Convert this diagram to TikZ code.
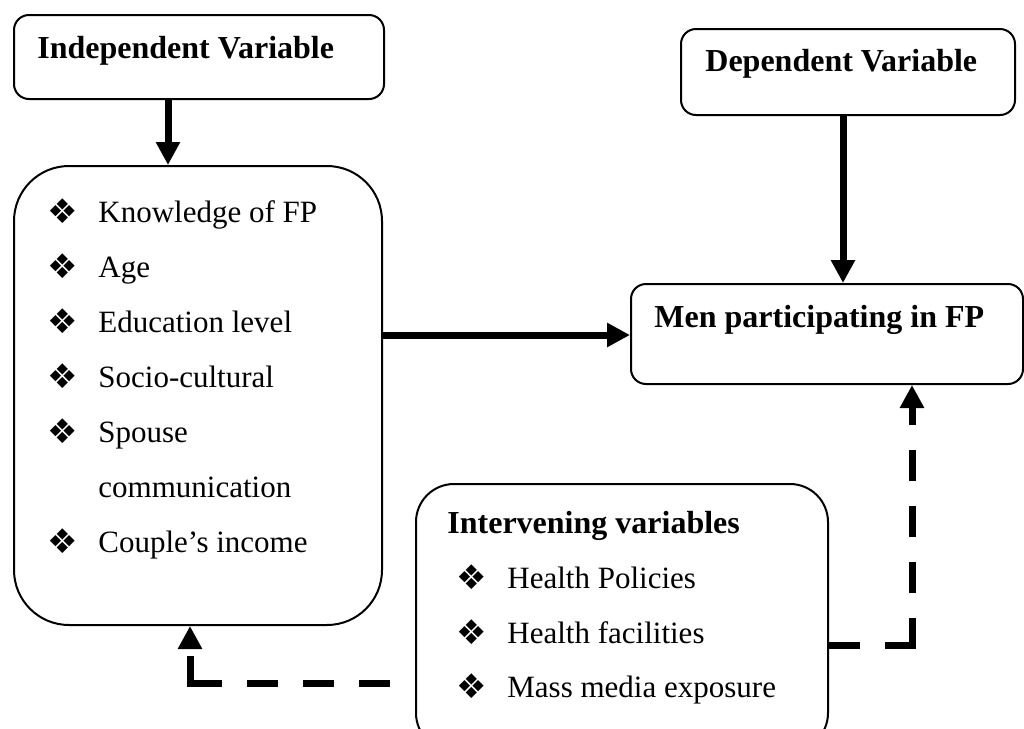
\documentclass[tikz,border=0pt]{standalone}
\usepackage{fontspec}
\setmainfont{Liberation Serif}
\newfontfamily\bulletfont{DejaVu Sans}
\usetikzlibrary{arrows.meta}
\newcommand\headfont{\bfseries\fontsize{16pt}{18pt}\selectfont}
\newcommand\bodyfont{\fontsize{15.5pt}{18pt}\selectfont}

\begin{document}
\begin{tikzpicture}[x=0.5pt, y=-0.5pt,
  box/.style={draw, line width=1pt, rounded corners=7.5pt, fill=white, anchor=north west, inner sep=0pt},
  headtxt/.style={anchor=base west, inner sep=0pt, font=\headfont},
  listtxt/.style={anchor=base west, inner sep=0pt, font=\bodyfont},
  bul/.style={inner sep=0pt, font=\bulletfont\fontsize{17pt}{17pt}\selectfont},
  link/.style={line width=3.5pt, -{Triangle[length=11.5pt, width=11.5pt]}},
  dseg/.style={line width=3.5pt, dash pattern=on 15.5pt off 12.5pt}]
  \clip (0,0) rectangle (1024,729);
  \fill[white] (0,0) rectangle (1024,729);
  % boxes
  \node[box, minimum width=185pt, minimum height=42pt] (indep) at (13,14) {};
  \node[box, minimum width=184pt, minimum height=229.5pt, rounded corners=27.5pt] (list) at (13,165) {};
  \node[box, minimum width=167pt, minimum height=43pt] (dep) at (680,28) {};
  \node[box, minimum width=196pt, minimum height=50pt] (men) at (630,283) {};
  \node[box, minimum width=206pt, minimum height=133.5pt, rounded corners=19pt] (interv) at (415,483) {};
  % headings
  \node[headtxt] (indept) at (37,58) {Independent Variable};
  \node[headtxt] (dept) at (705,71) {Dependent Variable};
  \node[headtxt] (ment) at (654,327) {Men participating in FP};
  \node[headtxt] (intervt) at (447,533) {Intervening variables};
  % independent variables
  \foreach \y/\txt [count=\i] in {222/Knowledge of FP, 277/Age, 332/Education level, 387/Socio-cultural, 442/Spouse, 552/Couple’s income} {
    \node[bul] (lb\i) at (63,\y-11) {❖};
    \node[listtxt] (li\i) at (98,\y) {\txt};
  }
  \node[listtxt] (li7) at (98,497) {communication};
  % intervening variables
  \foreach \y/\txt [count=\i] in {588/Health Policies, 643/Health facilities, 697/Mass media exposure} {
    \node[bul] (ib\i) at (472,\y-11) {❖};
    \node[listtxt] (ii\i) at (507,\y) {\txt};
  }
  % connectors
  \coordinate (ax) at (168,0);
  \coordinate (bx) at (843,0);
  \coordinate (cy) at (0,335);
  \coordinate (rc) at (912,645);
  \coordinate (lc) at (190,683);
  \draw[link] (ax |- indep.south) -- (ax |- list.north);
  \draw[link] (bx |- dep.south) -- (bx |- men.north);
  \draw[link] (list.east |- cy) -- (men.west |- cy);
  \draw[dseg] (interv.east |- rc) -- ([xshift=1.75pt]rc);
  \draw[dseg, link] ([yshift=-1.75pt]rc) -- (rc |- men.south);
  \draw[dseg, dash phase=15.5pt] (interv.west |- lc) -- ([xshift=-1.75pt]lc);
  \draw[dseg, link] ([yshift=-1.75pt]lc) -- (lc |- list.south);
\end{tikzpicture}
\end{document}
